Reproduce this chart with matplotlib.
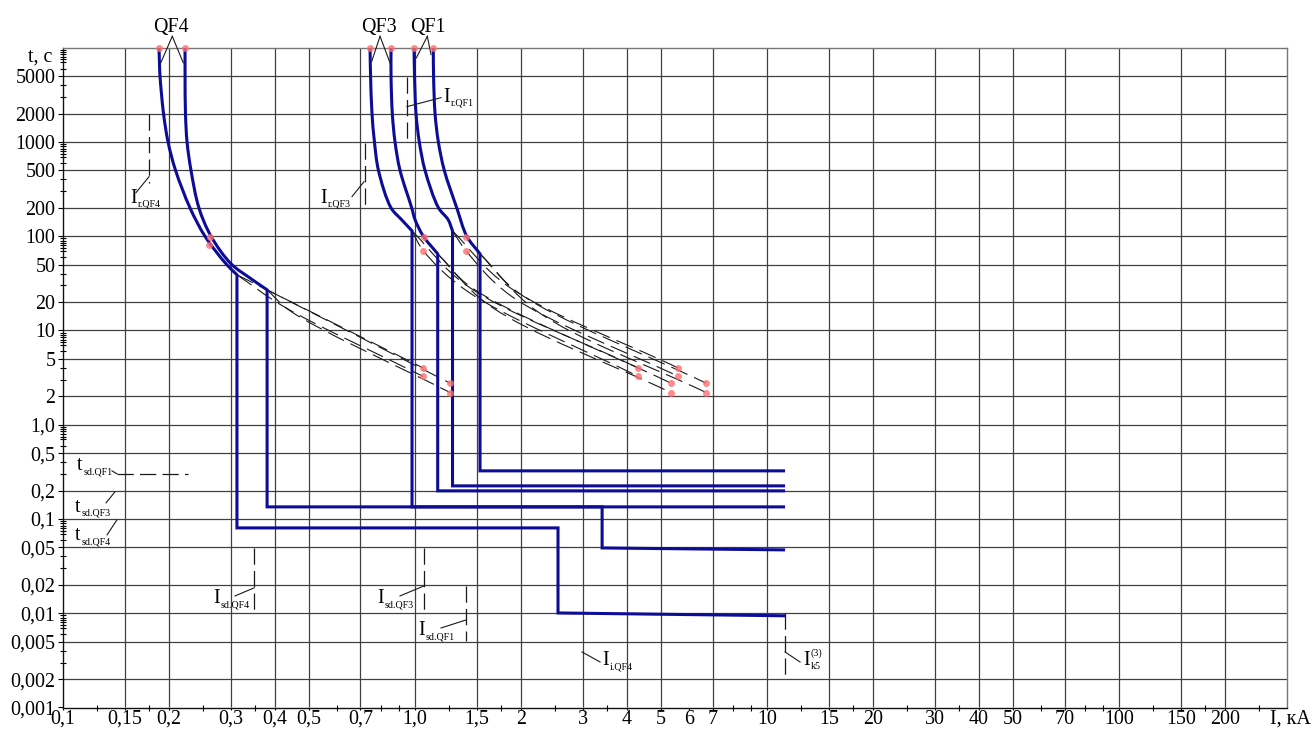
import numpy as np
import matplotlib
matplotlib.use("Agg")
import matplotlib.pyplot as plt
from matplotlib.path import Path
from matplotlib.patches import PathPatch
from matplotlib.ticker import FixedLocator, FixedFormatter, NullFormatter

plt.rcParams['font.family'] = ['Liberation Serif', 'DejaVu Serif']

# ---------------- axis layout (log-log time-current paper) ----------------
x_ticks = [0.1, 0.15, 0.2, 0.3, 0.4, 0.5, 0.7, 1.0, 1.5, 2, 3, 4, 5, 6, 7,
           10, 15, 20, 30, 40, 50, 70, 100, 150, 200]
x_ticklabels = ["0,1", "0,15", "0,2", "0,3", "0,4", "0,5", "0,7", "1,0", "1,5",
                "2", "3", "4", "5", "6", "7", "10", "15", "20", "30", "40",
                "50", "70", "100", "150", "200"]
x_gridlines = [0.15, 0.2, 0.3, 0.4, 0.5, 0.7, 1.0, 1.5, 2, 3, 4, 5, 7,
               10, 15, 20, 30, 40, 50, 70, 100, 150, 200]
x_minor_steps = [1.25, 1.75, 2.5, 3.5, 6, 8, 9]

y_ticks = [5000, 2000, 1000, 500, 200, 100, 50, 20, 10, 5, 2, 1.0, 0.5, 0.2,
           0.1, 0.05, 0.02, 0.01, 0.005, 0.002, 0.001]
y_ticklabels = ["5000", "2000", "1000", "500", "200", "100", "50", "20", "10",
                "5", "2", "1,0", "0,5", "0,2", "0,1", "0,05", "0,02", "0,01",
                "0,005", "0,002", "0,001"]
y_minor_steps = [3, 4, 6, 7, 7.5, 8, 8.5, 9, 9.5]

# ---------------- breaker characteristics (I in kA, t in s) ----------------
I_k5 = 11.25            # three-phase short-circuit current at K5

# QF4 lower / upper boundary: long-time curve, then short-time and instantaneous steps
qf4_lo_I = [0.1874, 0.1880, 0.1886, 0.1930, 0.1988, 0.2088, 0.2295, 0.2531, 0.2904, 0.3120]
qf4_lo_t = [10000, 6600, 5000, 2000, 1000, 500, 200, 100, 51, 39]
qf4_lo_step_I = [0.3120, 2.548, 2.548, I_k5]
qf4_lo_step_t = [0.0804, 0.0804, 0.01007, 0.0094]
qf4_hi_I = [0.2222, 0.2222, 0.2228, 0.2251, 0.2310, 0.2433, 0.2633, 0.3001, 0.3398, 0.3800]
qf4_hi_t = [10000, 5000, 2000, 1000, 500, 200, 100, 51, 36, 27]
qf4_hi_step_I = [0.3800, 3.40, 3.40, I_k5]
qf4_hi_step_t = [0.1344, 0.1344, 0.0493, 0.047]

# QF3 lower / upper boundary
qf3_lo_I = [0.7452, 0.7477, 0.7548, 0.7670, 0.7873, 0.8548, 0.9156, 0.9806]
qf3_lo_t = [10000, 5000, 2000, 1000, 500, 200, 150, 114]
qf3_lo_step_I = [0.9806, I_k5]
qf3_lo_step_t = [0.1344, 0.1344]
qf3_hi_I = [0.8548, 0.8548, 0.8620, 0.8774, 0.9065, 0.9786, 1.0, 1.056, 1.160]
qf3_hi_t = [10000, 5000, 2000, 1000, 500, 200, 150, 100, 65]
qf3_hi_step_I = [1.160, I_k5]
qf3_hi_step_t = [0.1988, 0.1988]

# QF1 lower / upper boundary
qf1_lo_I = [0.9935, 0.9968, 1.0065, 1.0285, 1.0676, 1.1662, 1.2417, 1.278]
qf1_lo_t = [10000, 5000, 2000, 1000, 500, 200, 150, 114]
qf1_lo_step_I = [1.278, I_k5]
qf1_lo_step_t = [0.2245, 0.2245]
qf1_hi_I = [1.127, 1.129, 1.140, 1.165, 1.211, 1.314, 1.403, 1.530]
qf1_hi_t = [10000, 5000, 2000, 1000, 500, 200, 100, 65]
qf1_hi_step_I = [1.530, I_k5]
qf1_hi_step_t = [0.324, 0.324]

# dashed continuations of the long-time characteristics
qf4_ext = [([0.312, 1.056], [39, 3.99]),
           ([0.312, 0.4245, 1.056], [39, 17.85, 3.25]),
           ([0.380, 1.257], [27, 2.765]),
           ([0.380, 0.4414, 1.257], [27, 16.19, 2.197])]
qf3_ext = [([0.9806, 1.4053, 4.31], [114, 29.83, 3.99]),
           ([0.9806, 1.056, 1.4146, 4.31], [114, 70.2, 25.75, 3.25]),
           ([1.160, 1.4453, 5.33], [65, 28.68, 2.765]),
           ([1.160, 1.6269, 5.33], [65, 18.43, 2.197])]
qf1_ext = [([1.278, 1.8375, 5.60], [114, 29.46, 3.99]),
           ([1.278, 1.396, 1.8825, 5.60], [114, 70.2, 22.96, 3.25]),
           ([1.530, 1.9799, 6.71], [65, 24.71, 2.765]),
           ([1.530, 2.2284, 6.71], [65, 15.87, 2.197])]

# characteristic points
pts_I = [0.1874, 0.2222, 0.7452, 0.8548, 0.9935, 1.127,
         0.2616, 0.2607, 1.061, 1.056, 1.396, 1.396,
         1.056, 1.056, 1.257, 1.257,
         4.31, 4.31, 5.33, 5.33,
         5.60, 5.60, 6.71, 6.71]
pts_t = [10000, 10000, 10000, 10000, 10000, 10000,
         99, 81, 99, 70.2, 99, 70.2,
         3.99, 3.25, 2.765, 2.197,
         3.99, 3.25, 2.765, 2.197,
         3.99, 3.25, 2.765, 2.197]

BLUE = '#0c0c96'
GRID = '#404040'
FS = 14.4
SUB = 7.2

W, H = 1314, 733
fig = plt.figure(figsize=(W / 100, H / 100), dpi=100)
ax = fig.add_axes([63 / W, 1 - 707.5 / H, (1287 - 63) / W, (707.5 - 47.7) / H])
ax.set_xscale('log')
ax.set_yscale('log')
ax.set_xlim(0.1, 300)
ax.set_ylim(0.001, 10000)

# pixels per decade on each axis (used to build smooth curves in screen proportions)
PX_X = (1287 - 63) / np.log10(300 / 0.1)
PX_Y = (707.5 - 47.7) / 7.0

# grid
ax.vlines(x_gridlines, 0.001, 10000, colors=GRID, lw=0.9, zorder=1)
ax.hlines(y_ticks[:-1], 0.1, 300, colors=GRID, lw=0.9, zorder=1)

# ticks
x_minor = [s * 10.0 ** k for k in (-1, 0, 1, 2) for s in x_minor_steps if s * 10.0 ** k <= 300]
x_minor = [v for v in x_minor if v not in x_ticks]
y_minor = [s * 10.0 ** k for k in range(-3, 4) for s in y_minor_steps]
ax.xaxis.set_major_locator(FixedLocator(x_ticks))
ax.xaxis.set_major_formatter(FixedFormatter(x_ticklabels))
ax.xaxis.set_minor_locator(FixedLocator(x_minor))
ax.xaxis.set_minor_formatter(NullFormatter())
ax.yaxis.set_major_locator(FixedLocator(y_ticks))
ax.yaxis.set_major_formatter(FixedFormatter(y_ticklabels))
ax.yaxis.set_minor_locator(FixedLocator(y_minor))
ax.yaxis.set_minor_formatter(NullFormatter())
ax.tick_params(axis='x', which='major', direction='out', length=1.5, width=0.8,
               pad=0.3, labelsize=FS)
ax.tick_params(axis='y', which='major', direction='out', length=3.5, width=0.8,
               pad=2.0, labelsize=FS)
ax.tick_params(axis='both', which='minor', direction='inout', length=5, width=0.8)

for side in ('left', 'bottom'):
    ax.spines[side].set_color('#111111')
    ax.spines[side].set_linewidth(1.0)
for side in ('top', 'right'):
    ax.spines[side].set_color('#777777')
    ax.spines[side].set_linewidth(1.0)

ax.text(-0.009, 7100, 't, с', transform=ax.get_yaxis_transform(), ha='right',
        va='baseline', fontsize=FS)
ax.annotate('I, кА', xy=(1, 0), xycoords='axes fraction', xytext=(17.5, -1.8),
            textcoords='offset points', ha='right', va='top', fontsize=FS)


def smooth_path(I, t):
    """Centripetal Catmull-Rom curve through the points, as cubic Bezier segments."""
    p = np.column_stack([np.log10(I) * PX_X, np.log10(t) * PX_Y])
    n = len(p)
    if n == 2:
        verts = p
        codes = [Path.MOVETO, Path.LINETO]
    else:
        q = np.vstack([2 * p[0] - p[1], p, 2 * p[-1] - p[-2]])
        verts = [p[0]]
        codes = [Path.MOVETO]
        for i in range(1, len(q) - 2):
            P0, P1, P2, P3 = q[i - 1], q[i], q[i + 1], q[i + 2]
            d01 = max(np.hypot(*(P1 - P0)) ** 0.5, 1e-6)
            d12 = max(np.hypot(*(P2 - P1)) ** 0.5, 1e-6)
            d23 = max(np.hypot(*(P3 - P2)) ** 0.5, 1e-6)
            m1 = (P1 - P0) / d01 - (P2 - P0) / (d01 + d12) + (P2 - P1) / d12
            m2 = (P2 - P1) / d12 - (P3 - P1) / (d12 + d23) + (P3 - P2) / d23
            verts += [P1 + m1 * d12 / 3.0, P2 - m2 * d12 / 3.0, P2]
            codes += [Path.CURVE4] * 3
        verts = np.array(verts)
    verts = np.asarray(verts, float)
    out = np.column_stack([10.0 ** (verts[:, 0] / PX_X), 10.0 ** (verts[:, 1] / PX_Y)])
    return out, list(codes)


def characteristic(I_th, t_th, step_I, step_t):
    verts, codes = smooth_path(I_th, t_th)
    verts = np.vstack([verts, np.column_stack([step_I, step_t])])
    codes = codes + [Path.LINETO] * len(step_I)
    ax.add_patch(PathPatch(Path(verts, codes), fill=False, edgecolor=BLUE,
                           lw=2.2, joinstyle='miter', zorder=4))


characteristic(qf4_lo_I, qf4_lo_t, qf4_lo_step_I, qf4_lo_step_t)
characteristic(qf4_hi_I, qf4_hi_t, qf4_hi_step_I, qf4_hi_step_t)
characteristic(qf3_lo_I, qf3_lo_t, qf3_lo_step_I, qf3_lo_step_t)
characteristic(qf3_hi_I, qf3_hi_t, qf3_hi_step_I, qf3_hi_step_t)
characteristic(qf1_lo_I, qf1_lo_t, qf1_lo_step_I, qf1_lo_step_t)
characteristic(qf1_hi_I, qf1_hi_t, qf1_hi_step_I, qf1_hi_step_t)

for ext in (qf4_ext, qf3_ext, qf1_ext):
    for I, t in ext:
        verts, codes = smooth_path(I, t)
        ax.add_patch(PathPatch(Path(verts, codes), fill=False, edgecolor='#1a1a1a',
                               lw=0.8, linestyle=(0, (16, 6.5)), zorder=3))

ax.plot(pts_I, pts_t, 'o', ms=5.0, color='#ff7070', alpha=0.8, mec='none',
        zorder=6, clip_on=False)


# ---------------- annotations ----------------
def leader(x0, y0, x1, y1):
    ax.plot([x0, x1], [y0, y1], color='#1a1a1a', lw=0.8, clip_on=False, zorder=5)


def marker(x0, y0, x1, y1):
    ax.plot([x0, x1], [y0, y1], color='#1a1a1a', lw=0.9, dashes=(13, 5),
            clip_on=False, zorder=5)


def label(x, y, main, sub, sup=None):
    t = ax.text(x, y, main, fontsize=FS, ha='left', va='baseline', zorder=7)
    ax.annotate(sub, xy=(1, 0), xycoords=t, xytext=(0.6, 0.6),
                textcoords='offset points', fontsize=SUB, ha='left', va='baseline')
    if sup:
        ax.annotate(sup, xy=(1, 0), xycoords=t, xytext=(0.6, 10.5),
                    textcoords='offset points', fontsize=SUB, ha='left', va='baseline')


# breaker names with V-shaped leaders to the curve pairs
for name, xc, apex, a, b in (('QF4', 0.2027, 0.2044, (0.1895, 6897), (0.2197, 6897)),
                             ('QF3', 0.7877, 0.7955, (0.7535, 7172), (0.8492, 6897)),
                             ('QF1', 1.0887, 1.0839, (1.0086, 7795), (1.1102, 8447))):
    ax.text(xc, 14822, name, fontsize=FS, ha='center', va='baseline', clip_on=False)
    leader(apex, 13213, *a)
    leader(apex, 13213, *b)

# long-time pickup currents
marker(0.1755, 2000, 0.1755, 370)
leader(0.1755, 428, 0.1612, 290)
label(0.155, 227, 'I', 'r.QF4')
marker(0.7211, 983, 0.7211, 200)
leader(0.7164, 379, 0.6622, 263)
label(0.5372, 227, 'I', 'r.QF3')
marker(0.949, 4934, 0.949, 1007)
leader(0.949, 2370, 1.1856, 2953)
label(1.201, 2679, 'I', 'r.QF1')

# short-time delays
label(0.1096, 0.332, 't', 'sd.QF1')
leader(0.1378, 0.324, 0.1423, 0.3012)
marker(0.1423, 0.3012, 0.2265, 0.3012)
label(0.1082, 0.1198, 't', 'sd.QF3')
leader(0.1325, 0.1482, 0.1405, 0.194)
label(0.1082, 0.060, 't', 'sd.QF4')
leader(0.1334, 0.0678, 0.1423, 0.0978)

# short-time pickup currents
marker(0.3488, 0.0493, 0.3488, 0.01007)
leader(0.3488, 0.01856, 0.3081, 0.01527)
label(0.2668, 0.01287, 'I', 'sd.QF4')
marker(1.0607, 0.0493, 1.0607, 0.01007)
leader(1.0607, 0.0195, 0.9065, 0.01527)
label(0.780, 0.01287, 'I', 'sd.QF3')
marker(1.3962, 0.0195, 1.3962, 0.00508)
leader(1.3962, 0.00849, 1.1856, 0.00698)
label(1.0198, 0.00588, 'I', 'sd.QF1')

# instantaneous pickup and short-circuit current
leader(2.982, 0.00388, 3.355, 0.00304)
label(3.399, 0.00283, 'I', 'i.QF4')
marker(I_k5, 0.01007, I_k5, 0.00196)
leader(I_k5, 0.00388, 12.41, 0.00304)
label(12.66, 0.00283, 'I', 'k5', '(3)')

fig.savefig('out.png', dpi=100, facecolor='white')
